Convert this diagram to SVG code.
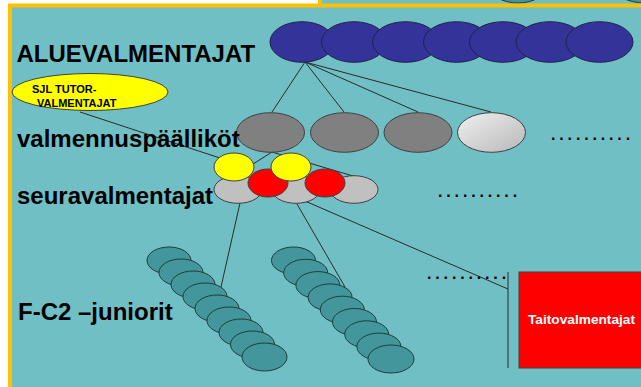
<svg xmlns="http://www.w3.org/2000/svg" width="641" height="387" viewBox="0 0 641 387">
<defs>
<linearGradient id="lg" x1="0" y1="0" x2="1" y2="1">
<stop offset="0" stop-color="#F0F0F0"/>
<stop offset="1" stop-color="#B8B8B8"/>
</linearGradient>
<style>
.lbl{font-family:"Liberation Sans",Arial,sans-serif;font-weight:bold;fill:#000}
.big{font-size:24px}
.blue{fill:#333399;stroke:#22224a;stroke-width:1}
.gray{fill:#808080;stroke:#404040;stroke-width:1}
.lgray{fill:#C0C0C0;stroke:#404040;stroke-width:1}
.yel{fill:#FFFF00;stroke:#404040;stroke-width:1}
.red{fill:#FF0000;stroke:#404040;stroke-width:1}
.teal{fill:#43979C;stroke:#1E3C3E;stroke-width:1}
.ln{stroke:#2b2b2b;stroke-width:1;fill:none}
.dots{font-family:"Liberation Sans",Arial,sans-serif;font-weight:bold;font-size:16px;letter-spacing:3.85px;fill:#000}
</style>
</defs>
<rect x="0" y="0" width="641" height="387" fill="#FFFFFF"/>
<g id="backdrop">
<rect x="322" y="0" width="319" height="6" fill="#70BFC4"/>
<ellipse cx="518" cy="-15" rx="29" ry="18" fill="#43979C" stroke="#1E3C3E"/>
<ellipse cx="645" cy="-15" rx="32" ry="18" fill="#43979C" stroke="#1E3C3E"/>
<line x1="320" y1="0" x2="320" y2="6" stroke="#FFC000" stroke-width="4"/>
<rect x="10" y="5.5" width="640" height="390" fill="#70BFC4" stroke="#FFC000" stroke-width="4"/>
</g>
<g id="connectors">
<line class="ln" x1="305" y1="62" x2="272" y2="112"/>
<line class="ln" x1="305" y1="62" x2="344" y2="112"/>
<line class="ln" x1="305" y1="62" x2="418" y2="112"/>
<line class="ln" x1="305" y1="62" x2="491" y2="112"/>
<line class="ln" x1="80" y1="112" x2="226" y2="160"/>
<line class="ln" x1="272" y1="152" x2="250" y2="166"/>
<line class="ln" x1="272" y1="152" x2="353" y2="176"/>
<line class="ln" x1="240" y1="203" x2="221" y2="287"/>
<line class="ln" x1="297" y1="204" x2="345" y2="287"/>
<line class="ln" x1="268" y1="185" x2="508" y2="289"/>
<line class="ln" x1="508" y1="272" x2="508" y2="368"/>
</g>
<g id="aluevalmentajat">
<ellipse class="blue" cx="302" cy="42" rx="32" ry="20.3"/>
<ellipse class="blue" cx="354" cy="42" rx="32.5" ry="20.3"/>
<ellipse class="blue" cx="405.5" cy="42" rx="33" ry="20.3"/>
<ellipse class="blue" cx="456.5" cy="42" rx="33" ry="20.3"/>
<ellipse class="blue" cx="503" cy="42" rx="33.5" ry="20.3"/>
<ellipse class="blue" cx="550" cy="42" rx="34" ry="20.3"/>
<ellipse class="blue" cx="599.5" cy="42" rx="33.5" ry="20.3"/>
</g>
<g id="valmennuspaallikot">
<ellipse class="gray" cx="270.5" cy="132.5" rx="34" ry="19.8"/>
<ellipse class="gray" cx="344.5" cy="132.5" rx="34" ry="19.8"/>
<ellipse class="gray" cx="418" cy="132.5" rx="34" ry="19.8"/>
<ellipse cx="491.5" cy="132.5" rx="34" ry="19.8" fill="url(#lg)" stroke="#404040"/>
</g>
<g id="seuravalmentajat">
<ellipse class="lgray" cx="238" cy="189.5" rx="24" ry="13.8"/>
<ellipse class="lgray" cx="296" cy="189.5" rx="24" ry="13.8"/>
<ellipse class="lgray" cx="354" cy="189.5" rx="24" ry="13.8"/>
<ellipse class="red" cx="268" cy="183" rx="20" ry="14"/>
<ellipse class="red" cx="325" cy="183" rx="20" ry="14"/>
<ellipse class="yel" cx="234" cy="167" rx="20" ry="14"/>
<ellipse class="yel" cx="291" cy="167" rx="20" ry="14"/>
</g>
<g id="juniorit-1">
<ellipse class="teal" cx="169" cy="260.5" rx="22" ry="13.5"/>
<ellipse class="teal" cx="181" cy="272.5" rx="22" ry="13.5"/>
<ellipse class="teal" cx="193" cy="284.5" rx="22" ry="13.5"/>
<ellipse class="teal" cx="205" cy="296.5" rx="22" ry="13.5"/>
<ellipse class="teal" cx="217" cy="308.5" rx="22" ry="13.5"/>
<ellipse class="teal" cx="229" cy="320.5" rx="22" ry="13.5"/>
<ellipse class="teal" cx="241" cy="332.5" rx="22" ry="13.5"/>
<ellipse class="teal" cx="252.5" cy="344.5" rx="22" ry="13.5"/>
<ellipse class="teal" cx="264.5" cy="357" rx="22.5" ry="14"/>
</g>
<g id="juniorit-2">
<ellipse class="teal" cx="293.5" cy="260.5" rx="22" ry="13.5"/>
<ellipse class="teal" cx="305.7" cy="272.8" rx="22" ry="13.5"/>
<ellipse class="teal" cx="317.9" cy="285.1" rx="22" ry="13.5"/>
<ellipse class="teal" cx="330.1" cy="297.4" rx="22" ry="13.5"/>
<ellipse class="teal" cx="342.3" cy="309.7" rx="22" ry="13.5"/>
<ellipse class="teal" cx="354.5" cy="322" rx="22" ry="13.5"/>
<ellipse class="teal" cx="366.7" cy="334.3" rx="22" ry="13.5"/>
<ellipse class="teal" cx="378.9" cy="346.6" rx="22" ry="13.5"/>
<ellipse class="teal" cx="391" cy="359" rx="23" ry="14"/>
</g>
<g id="sjl-tutor">
<ellipse cx="90" cy="92" rx="78" ry="18.5" fill="#FFFF00" stroke="#404040"/>
<text class="lbl" x="32" y="93" font-size="11">SJL TUTOR-</text>
<text class="lbl" x="37" y="107" font-size="11">VALMENTAJAT</text>
</g>
<g id="taitovalmentajat">
<rect x="519" y="272" width="130" height="96" fill="#FF0000" stroke="#404040"/>
<text class="lbl" x="528" y="324" font-size="13.7" style="fill:#FFFFFF">Taitovalmentajat</text>
</g>
<g id="labels">
<text class="lbl big" x="16.5" y="61.5">ALUEVALMENTAJAT</text>
<text class="lbl big" x="17" y="147">valmennuspäälliköt</text>
<text class="lbl big" x="17" y="204">seuravalmentajat</text>
<text class="lbl big" x="18" y="319.5">F-C2 –juniorit</text>
<text class="dots" x="551" y="140">..........</text>
<text class="dots" x="438" y="197">..........</text>
<text class="dots" x="427" y="279">..........</text>
</g>
</svg>
